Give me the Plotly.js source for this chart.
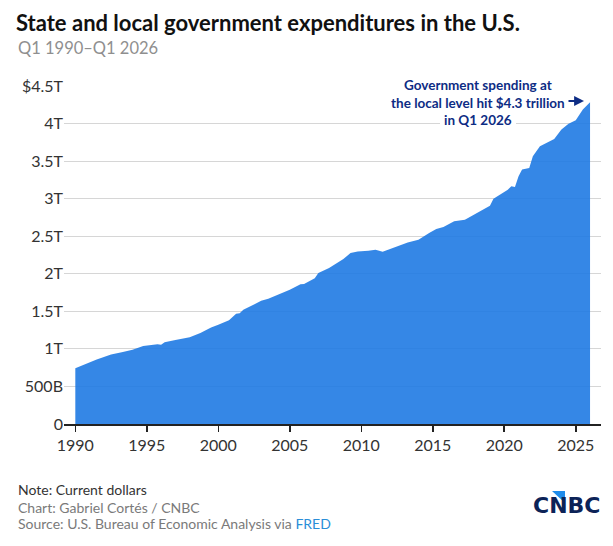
<!DOCTYPE html>
<html>
<head>
<meta charset="utf-8">
<script src="https://cdn.plot.ly/plotly-3.0.1.min.js"></script>
<style>
  html, body { margin: 0; padding: 0; background: #fff; }
  #chart { width: 613px; height: 546px; }
</style>
</head>
<body>
<div id="chart"></div>
<script>
// Quarter dates
const dates = [
  "1990-01-01","1990-07-01","1991-01-01","1991-07-01","1992-01-01","1992-07-01",
  "1993-04-01","1994-01-01","1994-10-01","1995-07-01","1995-10-01","1996-01-01",
  "1996-04-01","1997-01-01","1998-01-01","1998-10-01","1999-07-01","2000-01-01",
  "2000-07-01","2000-10-01","2001-04-01","2001-07-01","2001-10-01","2002-10-01",
  "2003-01-01","2003-07-01","2004-04-01","2005-01-01","2005-10-01","2006-01-01",
  "2006-10-01","2007-01-01","2007-10-01","2008-07-01","2008-10-01","2009-04-01",
  "2009-10-01","2010-07-01","2011-01-01","2011-07-01","2012-01-01","2012-10-01",
  "2013-04-01","2014-01-01","2014-07-01","2014-10-01","2015-04-01","2015-10-01",
  "2016-07-01","2017-04-01","2017-10-01","2018-07-01","2019-01-01","2019-04-01",
  "2019-10-01","2020-04-01","2020-07-01","2020-10-01","2021-01-01","2021-04-01",
  "2021-10-01","2022-01-01","2022-07-01","2023-01-01","2023-07-01","2024-01-01",
  "2024-07-01","2025-01-01","2025-07-01","2026-01-01"
];
// Expenditures, trillions of current dollars
const spending = [
  0.743,0.783,0.823,0.860,0.893,0.925,
  0.956,0.990,1.040,1.058,1.062,1.055,
  1.089,1.120,1.156,1.210,1.284,1.320,
  1.355,1.380,1.467,1.476,1.520,1.609,
  1.640,1.667,1.729,1.787,1.862,1.865,
  1.942,2.009,2.076,2.164,2.196,2.276,
  2.298,2.307,2.320,2.293,2.329,2.373,
  2.418,2.453,2.520,2.542,2.596,2.622,
  2.698,2.720,2.773,2.853,2.907,3.000,
  3.062,3.120,3.164,3.156,3.300,3.387,
  3.409,3.564,3.698,3.742,3.796,3.920,
  3.996,4.044,4.187,4.284
];
const yTickVals = [0,0.5,1,1.5,2,2.5,3,3.5,4,4.5];
const yTickText = ["0","500B","1T","1.5T","2T","2.5T","3T","3.5T","4T","$4.5T"];
const xTickVals = ["1990-01-01","1995-01-01","2000-01-01","2005-01-01","2010-01-01","2015-01-01","2020-01-01","2025-01-01"];
const xTickText = ["1990","1995","2000","2005","2010","2015","2020","2025"];

const FONT = "Lato, 'Open Sans', sans-serif";
// plot area: left 64, right 601, top 86, bottom 424
const L = 64, R = 601, T = 86, B = 424;
const px = x => (x - L) / (R - L);
const py = y => (B - y) / (B - T);

const trace = {
  x: dates, y: spending, type: "scatter", mode: "lines",
  line: { width: 0, color: "rgba(31,122,227,0.9)" },
  fill: "tozeroy", fillcolor: "rgba(31,122,227,0.9)",
  hoverinfo: "skip"
};

const NAVY = "#0d2c84";
const annoFont = { family: FONT, size: 13.5, color: NAVY, weight: 700 };
const whiteBox = (x0, x1, y0, y1) => ({
  type: "rect", xref: "paper", yref: "paper", layer: "above",
  x0: px(x0), x1: px(x1), y0: py(y1), y1: py(y0),
  fillcolor: "#fff", line: { width: 0 }
});
const layout = {
  width: 613, height: 546,
  margin: { l: L, r: 613 - R, t: T, b: 546 - B },
  paper_bgcolor: "#fff", plot_bgcolor: "#fff",
  showlegend: false,
  font: { family: FONT, color: "#333" },
  title: {
    text: "<b>State and local government expenditures in the U.S.</b>",
    font: { family: FONT, size: 22, color: "#111" },
    xref: "container", yref: "container",
    x: 16 / 613, xanchor: "left", y: 1 - 23 / 546, yanchor: "middle"
  },
  xaxis: {
    type: "date",
    range: ["1989-03-18", "2026-10-08"],
    tickvals: xTickVals, ticktext: xTickText,
    ticks: "outside", ticklen: 6, tickwidth: 1.5, tickcolor: "#222",
    showline: true, linecolor: "#222", linewidth: 1.5,
    showgrid: false, zeroline: false,
    tickfont: { family: FONT, size: 16, color: "#333" },
    fixedrange: true
  },
  yaxis: {
    range: [0, 4.5],
    tickvals: yTickVals, ticktext: yTickText,
    showgrid: true, gridcolor: "#d6d6d6", gridwidth: 1,
    zeroline: false, showline: false, ticks: "",
    tickfont: { family: FONT, size: 16, color: "#333" },
    fixedrange: true
  },
  annotations: [
    { text: "Q1 1990–Q1 2026", xref: "paper", yref: "paper", x: px(16), y: py(48),
      xanchor: "left", yanchor: "middle", showarrow: false,
      font: { family: FONT, size: 16.5, color: "#8f8f8f" } },
    { text: "Government spending at<br>the local level hit $4.3 trillion<br>in Q1 2026",
      xref: "paper", yref: "paper", x: px(477.5), y: py(102),
      xanchor: "center", yanchor: "middle", align: "center", showarrow: false, borderpad: 0,
      font: annoFont },
    { text: "", xref: "paper", yref: "paper", x: px(584), y: py(101),
      axref: "pixel", ayref: "pixel", ax: -17, ay: 0,
      showarrow: true, arrowhead: 2, arrowsize: 0.9, arrowwidth: 2.2, arrowcolor: NAVY,
      standoff: 0, startstandoff: 0 },
    { text: "Note: Current dollars", xref: "paper", yref: "paper", x: px(16), y: py(490),
      xanchor: "left", yanchor: "middle", showarrow: false,
      font: { family: FONT, size: 14, color: "#333" } },
    { text: "Chart: Gabriel Cortés / CNBC", xref: "paper", yref: "paper", x: px(16), y: py(507),
      xanchor: "left", yanchor: "middle", showarrow: false,
      font: { family: FONT, size: 14, color: "#7a7a7a" } },
    { text: "Source: U.S. Bureau of Economic Analysis via <span style='color:#2a8ed8'>FRED</span>",
      xref: "paper", yref: "paper", x: px(16), y: py(523),
      xanchor: "left", yanchor: "middle", showarrow: false,
      font: { family: FONT, size: 14, color: "#7a7a7a" } },
    { text: "<b>CNBC</b>", xref: "paper", yref: "paper", x: px(602), y: py(505),
      xanchor: "right", yanchor: "middle", showarrow: false,
      font: { family: "DejaVu Sans", size: 22, color: "#0c2357" } }
  ],
  shapes: [
    whiteBox(398, 558, 79, 92),
    whiteBox(440, 516, 119, 128),
    { type: "path", xref: "paper", yref: "paper",
      path: `M ${px(552)} ${py(491)} L ${px(565)} ${py(491)} L ${px(565)} ${py(503)} Z`,
      fillcolor: "#1f8ceb", line: { width: 0 } }
  ]
};

Plotly.newPlot("chart", [trace], layout, { staticPlot: true, displayModeBar: false });
</script>
</body>
</html>
